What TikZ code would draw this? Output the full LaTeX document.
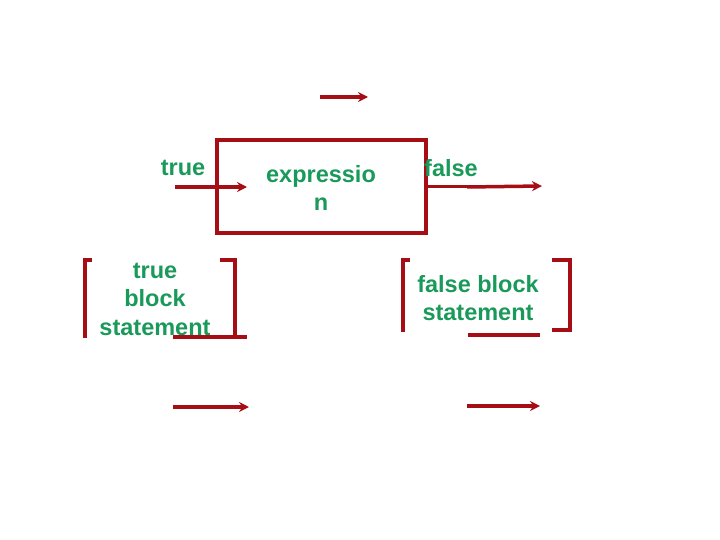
\documentclass[tikz,border=0pt]{standalone}
\usepackage{fontspec}
\setmainfont{Liberation Sans}
\usetikzlibrary{arrows.meta}
\definecolor{dred}{RGB}{165,14,20}
\definecolor{tgreen}{RGB}{26,154,90}
\begin{document}
\begin{tikzpicture}[x=1pt,y=-1pt,
  ln/.style={draw=dred,line width=3.5pt},
  arr/.style={ln,-{Stealth[length=10pt,width=10pt]}},
  lbl/.style={text=tgreen,font=\fontsize{23.5}{28.5}\selectfont\bfseries,align=center,inner sep=0pt},
  exprbox/.style={ln,minimum width=209pt,minimum height=93pt,inner sep=0pt}]
\useasboundingbox (0,0) rectangle (720,540);
% top arrow
\coordinate (ta1) at (320,97);
\coordinate (ta2) at (368,97);
\draw[arr] (ta1) -- (ta2);
% expression box
\node[exprbox] (box) at (321.5,186.5) {};
\node[lbl] (expr) at (321,188) {expressio\\n};
% labels
\node[lbl] (ltrue) at (183,168) {true};
\node[lbl] (lfalse) at (451,168) {false};
% in arrow
\coordinate (in1) at (175,187);
\coordinate (in2) at (247,187);
\draw[arr] (in1) -- (in2);
% out arrow
\coordinate (out0) at (427,187);
\coordinate (out1) at (467,187);
\coordinate (out2) at (542,186);
\draw[draw=dred,line width=3pt] (out0) -- (out1);
\draw[arr] (out1) -- (out2);
% true block
\node[lbl] (tblock) at (155,299) {true\\block\\statement};
\draw[ln] (92,260) -- (85,260) -- (85,338);
\draw[ln] (220,260) -- (235,260) -- (235,337);
\coordinate (tb1) at (173,337);
\coordinate (tb2) at (247,337);
\draw[ln] (tb1) -- (tb2);
% false block
\node[lbl] (fblock) at (478,298) {false block\\statement};
\draw[ln] (410,260) -- (403,260) -- (403,332);
\draw[ln] (552,260) -- (570,260) -- (570,330) -- (552,330);
\coordinate (fb1) at (468,335);
\coordinate (fb2) at (540,335);
\draw[ln] (fb1) -- (fb2);
% bottom arrows
\coordinate (bl1) at (173,407);
\coordinate (bl2) at (249,407);
\draw[arr] (bl1) -- (bl2);
\coordinate (br1) at (467,406);
\coordinate (br2) at (540,406);
\draw[arr] (br1) -- (br2);
\end{tikzpicture}
\end{document}
